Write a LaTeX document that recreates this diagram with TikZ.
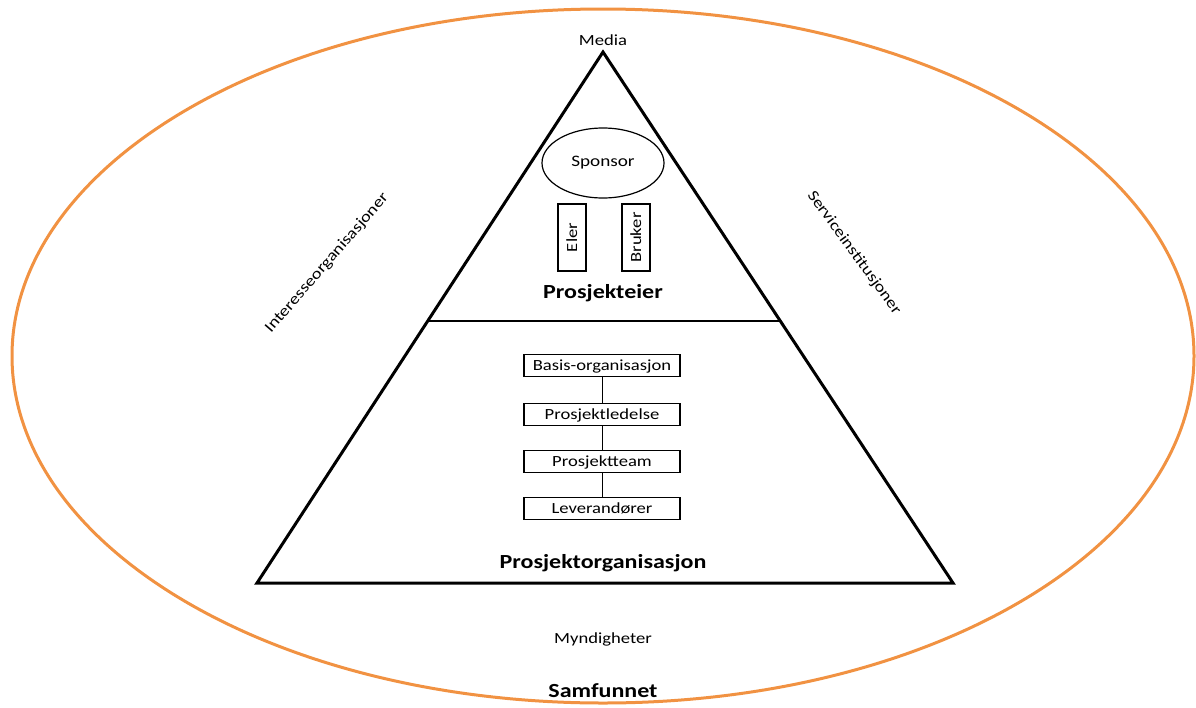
\documentclass[tikz,border=0pt]{standalone}
\usepackage{fontspec}
\setmainfont{Carlito}[FakeStretch=1.2]
\usetikzlibrary{calc,shapes.geometric}
\definecolor{ringorange}{RGB}{241,146,66}
\begin{document}
\begin{tikzpicture}[x=1pt,y=-1pt,
  lbl/.style={font=\fontsize{15.5}{18}\selectfont, inner sep=0pt},
  heading/.style={font=\fontsize{20}{24}\selectfont\bfseries, inner sep=0pt},
  rolebox/.style={draw, line width=1.2pt, minimum width=156pt, minimum height=22pt,
    inner sep=0pt, text height=12pt, text depth=2pt, font=\fontsize{15.5}{18}\selectfont},
  ownerbox/.style={draw, line width=1.2pt, rotate=90, minimum width=67pt, minimum height=28pt,
    inner sep=0pt, text height=12pt, text depth=2pt, font=\fontsize{15.5}{18}\selectfont},
  link/.style={line width=1pt}]

% canvas
\path[use as bounding box] (0,0) rectangle (1196,707);

% the society ring
\draw[ringorange, line width=3pt] (603,356) ellipse [x radius=591, y radius=347];

% pyramid
\coordinate (apex) at (603,52);
\coordinate (bl) at (257,583);
\coordinate (br) at (953,583);
\draw[line width=3pt, line join=miter] (apex) -- (bl) -- (br) -- cycle;
\coordinate (dl) at ($(apex)!0.5066!(bl)$);
\coordinate (dr) at ($(apex)!0.5066!(br)$);
\draw[line width=1.2pt] (dl) -- (dr);

% project owner part
\node[draw, ellipse, line width=1.2pt, minimum width=122pt, minimum height=70pt, inner sep=0pt,
  font=\fontsize{16}{18}\selectfont] (sponsor) at (603,163) {Sponsor};
\node[ownerbox] (eler) at (572,237.5) {Eler};
\node[ownerbox] (bruker) at (636,237.5) {Bruker};
\node[heading, anchor=base] (eier) at (603,298) {Prosjekteier};

% project organisation part
\node[rolebox] (basis) at (602,365.5) {Basis-organisasjon};
\node[rolebox] (ledelse) at (602,414.5) {Prosjektledelse};
\node[rolebox] (team) at (602,461.5) {Prosjektteam};
\node[rolebox] (lev) at (602,508.5) {Leverandører};
\draw[link] (basis) -- (ledelse);
\draw[link] (ledelse) -- (team);
\draw[link] (team) -- (lev);
\node[heading, anchor=base] (org) at (603,568) {Prosjektorganisasjon};

% surrounding stakeholders
\node[lbl, anchor=base] (media) at (603,45) {Media};
\node[lbl, rotate=49] (interesse) at (327,263) {Interesseorganisasjoner};
\node[lbl, rotate=-54] (service) at (854,253) {Serviceinstitusjoner};
\node[lbl, anchor=base] (myndigheter) at (603,643) {Myndigheter};
\node[heading, anchor=base] (samfunnet) at (603,697) {Samfunnet};
\end{tikzpicture}
\end{document}
